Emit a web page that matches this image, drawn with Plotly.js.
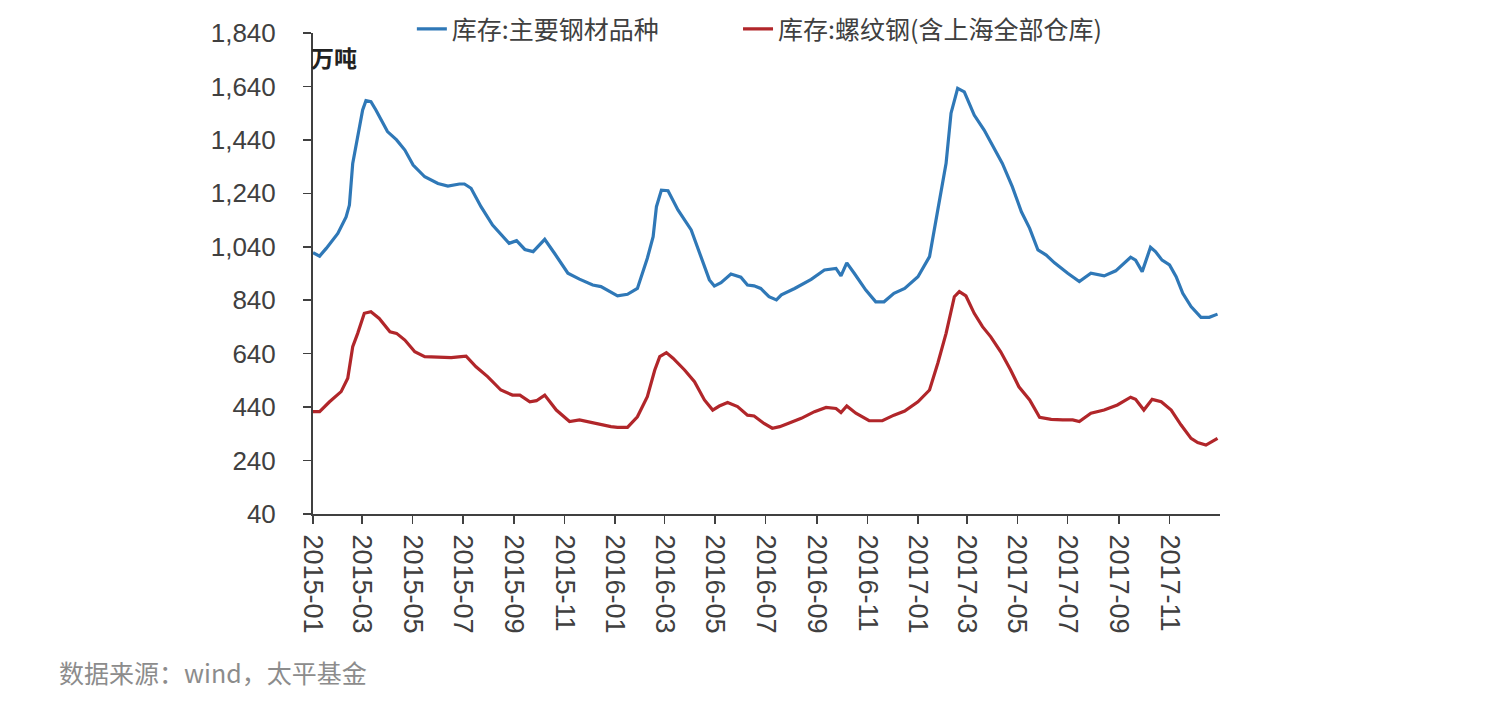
<!DOCTYPE html>
<html>
<head>
<meta charset="utf-8">
<script src="https://cdn.plot.ly/plotly-3.0.1.min.js"></script>
<style>
  html, body { margin: 0; padding: 0; background: #ffffff; }
  #chart { width: 1507px; height: 725px; }
</style>
</head>
<body>
<div id="chart"></div>
<script>
// ---- data ----
const seriesNames = ['库存:主要钢材品种', '库存:螺纹钢(含上海全部仓库)'];

const mainDates = ['2015-01-01','2015-01-09','2015-01-17','2015-01-31','2015-02-10','2015-02-14','2015-02-18','2015-02-22','2015-03-02','2015-03-06','2015-03-12','2015-03-18','2015-04-01','2015-04-12','2015-04-22','2015-05-02','2015-05-16','2015-06-01','2015-06-13','2015-06-27','2015-07-03','2015-07-11','2015-07-23','2015-08-06','2015-08-26','2015-09-04','2015-09-14','2015-09-24','2015-10-08','2015-10-20','2015-11-05','2015-11-19','2015-12-05','2015-12-15','2016-01-04','2016-01-16','2016-01-28','2016-02-09','2016-02-16','2016-02-20','2016-02-26','2016-03-05','2016-03-17','2016-04-02','2016-04-14','2016-04-24','2016-04-30','2016-05-08','2016-05-20','2016-06-01','2016-06-09','2016-06-17','2016-06-25','2016-07-05','2016-07-14','2016-07-20','2016-08-05','2016-08-25','2016-09-10','2016-09-24','2016-09-30','2016-10-07','2016-10-16','2016-10-30','2016-11-11','2016-11-21','2016-12-03','2016-12-16','2017-01-01','2017-01-15','2017-01-25','2017-02-04','2017-02-10','2017-02-18','2017-02-26','2017-03-10','2017-03-22','2017-04-03','2017-04-13','2017-04-25','2017-05-06','2017-05-16','2017-05-26','2017-06-05','2017-06-15','2017-07-01','2017-07-15','2017-07-29','2017-08-14','2017-08-28','2017-09-15','2017-09-21','2017-09-29','2017-10-09','2017-10-15','2017-10-23','2017-11-01','2017-11-09','2017-11-17','2017-11-27','2017-12-09','2017-12-19','2017-12-29'];
const mainValues = [1018,1005,1034,1090,1152,1196,1352,1414,1552,1587,1583,1552,1471,1440,1402,1346,1302,1277,1267,1275,1275,1259,1190,1121,1053,1063,1030,1022,1068,1015,941,919,897,891,856,862,884,997,1078,1190,1252,1250,1178,1103,1003,916,893,906,938,926,897,894,884,853,841,860,884,918,953,959,931,980,941,878,834,834,866,884,928,1003,1178,1352,1540,1633,1620,1533,1477,1408,1352,1265,1171,1109,1028,1009,980,941,910,941,931,950,1001,990,947,1038,1022,990,972,928,866,816,776,776,788];

const rebarDates = ['2015-01-01','2015-01-09','2015-01-21','2015-02-04','2015-02-12','2015-02-18','2015-02-24','2015-03-04','2015-03-12','2015-03-22','2015-04-04','2015-04-12','2015-04-22','2015-05-04','2015-05-16','2015-06-01','2015-06-17','2015-06-29','2015-07-05','2015-07-17','2015-07-31','2015-08-16','2015-08-30','2015-09-08','2015-09-20','2015-09-28','2015-10-08','2015-10-22','2015-11-07','2015-11-19','2015-12-07','2015-12-27','2016-01-04','2016-01-16','2016-01-28','2016-02-09','2016-02-18','2016-02-24','2016-03-03','2016-03-11','2016-03-25','2016-04-06','2016-04-18','2016-04-28','2016-05-06','2016-05-16','2016-05-28','2016-06-09','2016-06-17','2016-06-29','2016-07-09','2016-07-18','2016-07-28','2016-08-13','2016-08-29','2016-09-12','2016-09-24','2016-09-30','2016-10-07','2016-10-18','2016-11-03','2016-11-19','2016-12-03','2016-12-16','2017-01-01','2017-01-15','2017-01-25','2017-02-04','2017-02-14','2017-02-20','2017-02-28','2017-03-10','2017-03-20','2017-03-30','2017-04-11','2017-04-23','2017-05-03','2017-05-16','2017-05-28','2017-06-11','2017-06-25','2017-07-07','2017-07-15','2017-07-29','2017-08-14','2017-08-30','2017-09-15','2017-09-21','2017-10-01','2017-10-11','2017-10-22','2017-11-03','2017-11-15','2017-11-27','2017-12-05','2017-12-15','2017-12-29'];
const rebarValues = [423,423,460,498,548,666,716,791,797,772,722,716,691,647,629,626,625,629,631,591,554,504,485,485,460,464,485,429,386,392,379,367,364,364,404,479,579,629,644,623,579,535,467,429,444,457,442,410,407,379,361,367,379,398,423,439,435,420,444,417,389,389,410,425,460,504,604,716,853,872,856,791,741,703,647,579,516,467,402,394,392,392,386,417,429,448,477,469,429,469,460,429,373,323,307,298,323];

const xTickLabels = ['2015-01','2015-03','2015-05','2015-07','2015-09','2015-11','2016-01','2016-03','2016-05','2016-07','2016-09','2016-11','2017-01','2017-03','2017-05','2017-07','2017-09','2017-11'];
const yTickValues = [40,240,440,640,840,1040,1240,1440,1640,1840];
const unitLabel = '万吨';
const sourceNote = '数据来源：wind，太平基金';

// ---- chart ----
const traces = [
  { x: mainDates, y: mainValues, name: seriesNames[0], type: 'scatter', mode: 'lines',
    line: { color: '#2f78b7', width: 3.2 }, legend: 'legend' },
  { x: rebarDates, y: rebarValues, name: seriesNames[1], type: 'scatter', mode: 'lines',
    line: { color: '#b1262a', width: 3.2 }, legend: 'legend2' }
];

const legendFont = { family: 'Noto Sans CJK SC, sans-serif', size: 25, color: '#404040' };

const layout = {
  width: 1507, height: 725,
  paper_bgcolor: '#ffffff', plot_bgcolor: '#ffffff',
  margin: { l: 313, r: 287, t: 33, b: 211, pad: 0, autoexpand: false },
  font: { family: 'Liberation Sans, Arial, sans-serif', color: '#404040' },
  showlegend: true,
  legend: {
    orientation: 'h', x: 0.109, xanchor: 'left', y: 1.008, yanchor: 'middle',
    font: legendFont, bgcolor: 'rgba(0,0,0,0)', itemclick: false
  },
  legend2: {
    orientation: 'h', x: 0.4686, xanchor: 'left', y: 1.008, yanchor: 'middle',
    font: legendFont, bgcolor: 'rgba(0,0,0,0)', itemclick: false
  },
  xaxis: {
    type: 'date',
    range: ['2015-01-01', '2018-01-01'],
    tickvals: xTickLabels.map(s => s + '-01'),
    ticktext: xTickLabels,
    tickangle: 90,
    ticks: 'outside', ticklen: 8, tickwidth: 1.5, tickcolor: '#404040',
    tickfont: { size: 27, family: 'Liberation Sans, Arial, sans-serif', color: '#404040' },
    showline: true, linecolor: '#404040', linewidth: 2,
    showgrid: false, zeroline: false, fixedrange: true, automargin: false,
    ticklabelstandoff: 5
  },
  yaxis: {
    range: [40, 1840],
    tickvals: yTickValues,
    tickformat: ',d',
    ticks: 'outside', ticklen: 8, tickwidth: 1.5, tickcolor: '#404040',
    tickfont: { size: 26, family: 'Liberation Sans, Arial, sans-serif', color: '#404040' },
    showline: true, linecolor: '#404040', linewidth: 2,
    showgrid: false, zeroline: false, fixedrange: true, automargin: false,
    ticklabelstandoff: 22
  },
  annotations: [
    { text: '<b>' + unitLabel + '</b>', xref: 'paper', yref: 'paper', x: 0, y: 0.95,
      xanchor: 'left', yanchor: 'middle', xshift: -4, showarrow: false,
      font: { family: 'Noto Sans CJK SC, sans-serif', size: 23, color: '#222222' } },
    { text: sourceNote, xref: 'paper', yref: 'paper', x: (57 - 313) / 907, y: -0.3285,
      xanchor: 'left', yanchor: 'middle', showarrow: false,
      font: { family: 'Noto Sans CJK SC, sans-serif', size: 25, color: '#8c8c8c' } }
  ]
};

Plotly.newPlot('chart', traces, layout, { displayModeBar: false, staticPlot: true });
</script>
</body>
</html>
